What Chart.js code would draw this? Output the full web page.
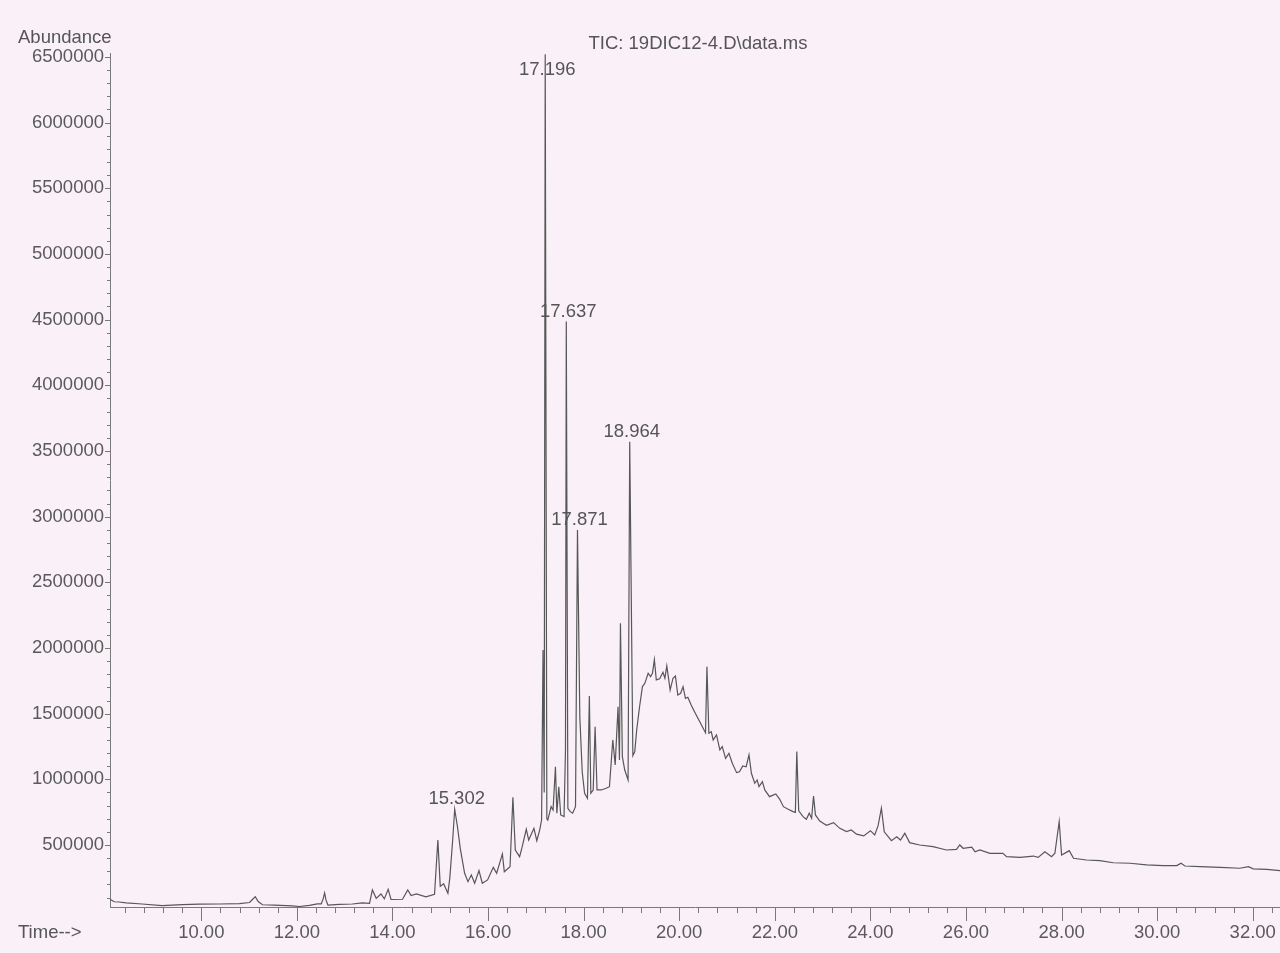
<!DOCTYPE html>
<html>
<head>
<meta charset="utf-8">
<title>TIC: 19DIC12-4.D\data.ms</title>
<script src="https://cdn.jsdelivr.net/npm/chart.js@4.4.0/dist/chart.umd.min.js"></script>
<style>
  html, body { margin: 0; padding: 0; background: #f9f1f7; }
  #wrap { width: 1280px; height: 953px; position: relative; }
</style>
</head>
<body>
<div id="wrap"><canvas id="tic" width="1280" height="953"></canvas></div>
<script>
const canvas = document.getElementById("tic");

// Retention time (min) of each sampled point of the trace
const times = [
  8.09, 8.18, 8.28, 8.43, 8.76, 9.18, 9.60, 9.96, 10.38, 10.80,
  11.01, 11.07, 11.13, 11.19, 11.28, 11.53, 11.91, 12.05, 12.26, 12.43,
  12.51, 12.55, 12.58, 12.61, 12.65, 12.89, 13.16, 13.37, 13.52, 13.58,
  13.66, 13.76, 13.83, 13.91, 13.97, 14.21, 14.32, 14.39, 14.50, 14.70,
  14.88, 14.95, 15.00, 15.07, 15.16, 15.20, 15.26, 15.302, 15.36, 15.42,
  15.51, 15.58, 15.65, 15.72, 15.81, 15.88, 15.99, 16.11, 16.18, 16.30,
  16.34, 16.46, 16.52, 16.57, 16.66, 16.71, 16.80, 16.85, 16.96, 17.02,
  17.08, 17.12, 17.15, 17.175, 17.196, 17.23, 17.25, 17.32, 17.36, 17.41,
  17.44, 17.48, 17.52, 17.59, 17.62, 17.637, 17.67, 17.72, 17.77, 17.83,
  17.871, 17.92, 17.97, 18.02, 18.08, 18.12, 18.15, 18.20, 18.24, 18.28,
  18.37, 18.47, 18.54, 18.61, 18.66, 18.72, 18.75, 18.77, 18.81, 18.86,
  18.93, 18.964, 19.03, 19.07, 19.11, 19.17, 19.23, 19.28, 19.35, 19.40,
  19.44, 19.48, 19.52, 19.59, 19.66, 19.70, 19.74, 19.81, 19.87, 19.92,
  19.97, 20.03, 20.08, 20.13, 20.18, 20.25, 20.32, 20.43, 20.50, 20.55,
  20.58, 20.62, 20.67, 20.71, 20.78, 20.85, 20.90, 20.97, 21.04, 21.11,
  21.20, 21.26, 21.33, 21.40, 21.46, 21.51, 21.58, 21.63, 21.67, 21.74,
  21.79, 21.89, 22.02, 22.10, 22.18, 22.28, 22.38, 22.43, 22.46, 22.50,
  22.59, 22.66, 22.72, 22.77, 22.81, 22.85, 22.94, 23.08, 23.23, 23.36,
  23.50, 23.60, 23.71, 23.86, 24.00, 24.09, 24.16, 24.23, 24.29, 24.44,
  24.55, 24.63, 24.72, 24.82, 25.03, 25.31, 25.59, 25.80, 25.87, 25.94,
  26.12, 26.19, 26.29, 26.50, 26.77, 26.85, 27.13, 27.41, 27.51, 27.65,
  27.79, 27.86, 27.95, 28.00, 28.09, 28.16, 28.25, 28.52, 28.80, 29.08,
  29.43, 29.78, 30.13, 30.41, 30.50, 30.58, 30.90, 31.32, 31.73, 31.91,
  32.01, 32.29, 32.57,
];

// Total ion current at each time above
const abundance = [
  87000, 68000, 66000, 60000, 51000, 38000, 46000, 50000, 51000, 54000,
  62000, 85000, 107000, 70000, 45000, 42000, 36000, 32000, 41000, 52000,
  52000, 90000, 135000, 80000, 43000, 48000, 51000, 60000, 56000, 158000,
  94000, 127000, 90000, 163000, 85000, 87000, 158000, 115000, 127000, 105000,
  125000, 538000, 185000, 205000, 132000, 250000, 538000, 772000, 640000, 470000,
  285000, 221000, 272000, 209000, 305000, 209000, 234000, 330000, 285000, 432000,
  297000, 335000, 863000, 462000, 411000, 480000, 620000, 538000, 627000, 533000,
  614000, 690000, 1985000, 900000, 6520000, 700000, 690000, 792000, 767000, 1096000,
  742000, 944000, 729000, 716000, 1224000, 4485000, 780000, 754000, 742000, 792000,
  2899000, 1477000, 1058000, 894000, 856000, 1635000, 894000, 919000, 1401000, 919000,
  919000, 932000, 944000, 1300000, 1110000, 1553000, 1147000, 2188000, 1173000, 1071000,
  995000, 3571000, 1180000, 1211000, 1376000, 1553000, 1706000, 1731000, 1808000, 1782000,
  1808000, 1912000, 1757000, 1765000, 1815000, 1770000, 1864000, 1680000, 1770000, 1787000,
  1642000, 1655000, 1706000, 1617000, 1625000, 1566000, 1515000, 1439000, 1389000, 1355000,
  1858000, 1351000, 1363000, 1300000, 1338000, 1224000, 1249000, 1160000, 1198000, 1122000,
  1051000, 1058000, 1102000, 1096000, 1186000, 1046000, 970000, 995000, 944000, 982000,
  919000, 868000, 889000, 850000, 792000, 772000, 754000, 748000, 1211000, 760000,
  716000, 696000, 742000, 704000, 873000, 729000, 682000, 650000, 670000, 627000,
  602000, 614000, 583000, 569000, 609000, 576000, 645000, 780000, 600000, 533000,
  563000, 538000, 589000, 518000, 500000, 487000, 462000, 467000, 500000, 475000,
  483000, 449000, 462000, 437000, 437000, 411000, 406000, 416000, 406000, 449000,
  411000, 437000, 678000, 424000, 442000, 457000, 399000, 386000, 381000, 365000,
  361000, 348000, 343000, 343000, 361000, 340000, 335000, 330000, 323000, 335000,
  318000, 315000, 305000,
];

// Peaks that get a retention time label
const labelledPeaks = [15.302, 17.196, 17.637, 17.871, 18.964];

const inkColor = "#575757";
const axisColor = "#7a7a7a";
const fontFamily = '"Liberation Sans", Arial, Helvetica, sans-serif';

Chart.defaults.font.family = fontFamily;
Chart.defaults.font.size = 18.5;
Chart.defaults.color = "#5a5a5a";

const isMultiple = (v, step) => Math.abs(v / step - Math.round(v / step)) < 1e-6;

// tick values every `step` inside the axis range (minor + major)
const stepTicks = (scale, step) => {
  const ticks = [];
  const first = Math.ceil(scale.min / step - 1e-6);
  const last = Math.floor(scale.max / step + 1e-6);
  for (let k = first; k <= last; k++) {
    ticks.push({ value: +(k * step).toFixed(6) });
  }
  scale.ticks = ticks;
};

// Tick marks, title and peak labels
const decorations = {
  id: "decorations",
  afterDraw(chart) {
    const { ctx, chartArea, scales } = chart;
    const xs = scales.x;
    const ys = scales.y;
    ctx.save();
    ctx.strokeStyle = axisColor;
    ctx.lineWidth = 1;
    ctx.beginPath();
    xs.ticks.forEach((t) => {
      const px = Math.round(xs.getPixelForValue(t.value)) + 0.5;
      const len = isMultiple(t.value, 2) ? 14 : 6;
      ctx.moveTo(px, chartArea.bottom);
      ctx.lineTo(px, chartArea.bottom + len);
    });
    ys.ticks.forEach((t) => {
      const py = Math.round(ys.getPixelForValue(t.value)) + 0.5;
      const len = isMultiple(t.value, 500000) ? 5 : 3;
      ctx.moveTo(chartArea.left - len, py);
      ctx.lineTo(chartArea.left, py);
    });
    ctx.stroke();

    ctx.fillStyle = "#555";
    ctx.font = "18.5px " + fontFamily;
    ctx.textBaseline = "middle";
    ctx.textAlign = "left";
    ctx.fillText("Abundance", 18, 38);
    ctx.fillText("Time-->", 18, 933);
    ctx.textAlign = "center";
    ctx.fillText("TIC: 19DIC12-4.D\\data.ms", 698, 44);

    // retention time above each labelled peak
    ctx.textBaseline = "alphabetic";
    labelledPeaks.forEach((rt) => {
      const i = times.indexOf(rt);
      const px = xs.getPixelForValue(rt);
      const py = ys.getPixelForValue(abundance[i]);
      const ty = Math.max(py - 5, chartArea.top + 22);
      ctx.fillText(rt.toFixed(3), px + 2, ty);
    });
    ctx.restore();
  },
};

const chart = new Chart(canvas, {
  type: "line",
  data: {
    datasets: [
      {
        data: times.map((t, i) => ({ x: t, y: abundance[i] })),
        borderColor: inkColor,
        borderWidth: 1.2,
        pointRadius: 0,
        tension: 0,
        fill: false,
      },
    ],
  },
  options: {
    responsive: false,
    animation: false,
    events: [],
    layout: { autoPadding: false, padding: { top: 53, right: 0, bottom: 0, left: 0 } },
    plugins: {
      legend: { display: false },
      tooltip: { enabled: false },
      title: { display: false },
    },
    scales: {
      x: {
        type: "linear",
        min: 8.09,
        max: 32.57,
        afterBuildTicks: (scale) => stepTicks(scale, 0.4),
        afterFit: (scale) => {
          scale.height = 46;
          scale.paddingLeft = 0;
          scale.paddingRight = 0;
        },
        border: { display: true, color: axisColor, width: 1 },
        grid: { display: false, drawTicks: false },
        ticks: {
          autoSkip: false,
          maxRotation: 0,
          padding: 15,
          callback: (v) => (isMultiple(v, 2) ? v.toFixed(2) : ""),
        },
      },
      y: {
        type: "linear",
        min: 28000,
        max: 6530000,
        afterBuildTicks: (scale) => stepTicks(scale, 100000),
        afterFit: (scale) => {
          scale.width = 110;
          scale.paddingTop = 0;
          scale.paddingBottom = 0;
        },
        border: { display: true, color: axisColor, width: 1 },
        grid: { display: false, drawTicks: false },
        ticks: {
          autoSkip: false,
          padding: 6,
          callback: (v) => (isMultiple(v, 500000) ? String(v) : ""),
        },
      },
    },
  },
  plugins: [decorations],
});
</script>
</body>
</html>
